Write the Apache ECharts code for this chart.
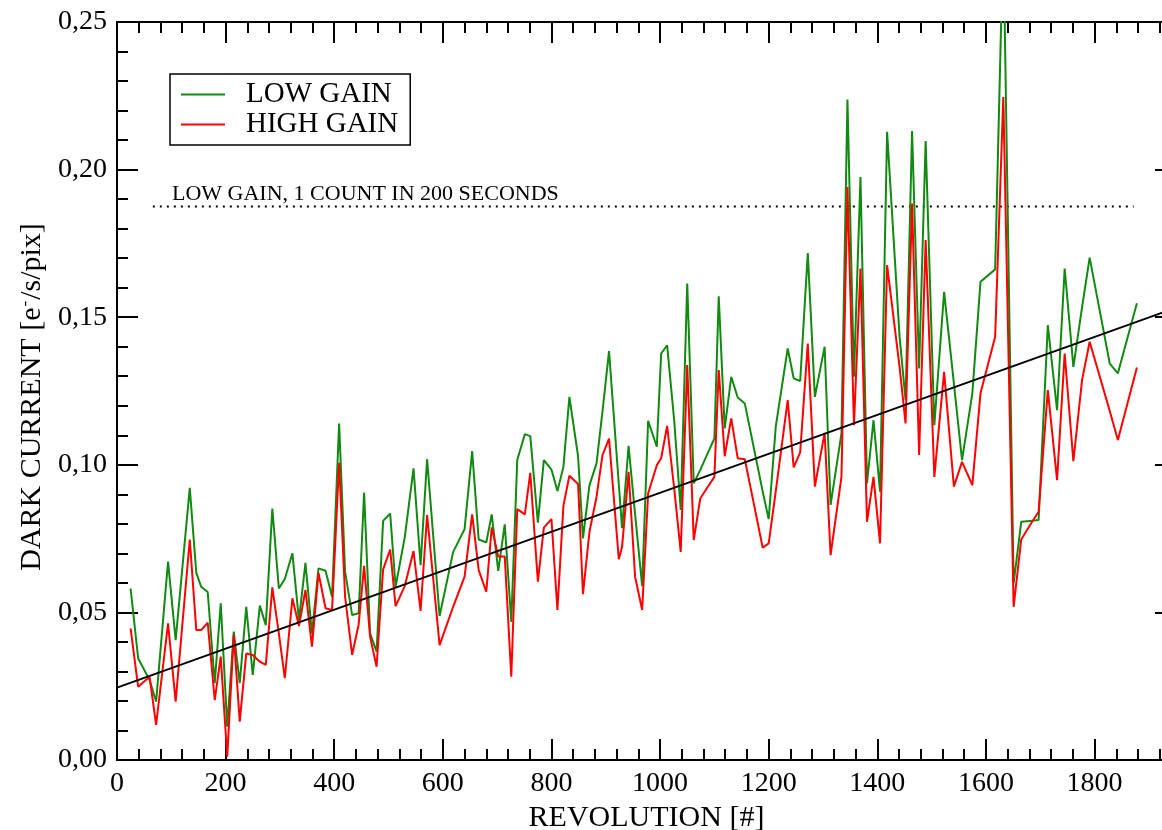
<!DOCTYPE html>
<html><head><meta charset="utf-8">
<script src="https://cdn.jsdelivr.net/npm/echarts@6/dist/echarts.min.js"></script>
<style>html,body{margin:0;padding:0;background:#fff}#c{width:1162px;height:830px}</style>
</head><body><div id="c"></div>
<script>
// ---------- data ----------
const revolutions = [25,39,60,72,94,108,134,146,155,167,180,191,203,215,226,238,250,263,274,286,298,309,323,335,347,359,371,384,396,409,420,433,445,455,466,478,490,503,513,530,546,559,571,594,619,640,654,666,680,690,702,714,726,737,751,761,775,786,800,811,822,833,849,858,870,883,894,906,924,930,942,954,967,978,994,1002,1013,1026,1038,1050,1062,1074,1087,1100,1108,1119,1131,1143,1156,1171,1189,1200,1213,1235,1246,1258,1272,1285,1303,1314,1334,1345,1357,1369,1381,1393,1405,1418,1441,1452,1464,1477,1489,1505,1523,1541,1556,1575,1590,1617,1632,1651,1665,1681,1697,1714,1731,1745,1761,1777,1791,1828,1843,1878];
const lowGain = [0.0581,0.0344,0.0271,0.0198,0.0672,0.0406,0.0922,0.0634,0.0587,0.0569,0.0260,0.0531,0.0113,0.0435,0.0260,0.0519,0.0288,0.0523,0.0457,0.0852,0.0581,0.0613,0.0700,0.0474,0.0668,0.0429,0.0649,0.0641,0.0553,0.1140,0.0638,0.0491,0.0497,0.0906,0.0429,0.0367,0.0810,0.0835,0.0587,0.0756,0.0988,0.0660,0.1019,0.0488,0.0705,0.0782,0.1046,0.0747,0.0737,0.0832,0.0641,0.0798,0.0468,0.1016,0.1104,0.1097,0.0804,0.1016,0.0984,0.0911,0.0993,0.1230,0.1029,0.0751,0.0931,0.1005,0.1182,0.1385,0.0935,0.0785,0.1064,0.0832,0.0589,0.1149,0.1061,0.1377,0.1405,0.1150,0.0847,0.1614,0.0937,0.0983,0.1036,0.1089,0.1571,0.1123,0.1298,0.1228,0.1208,0.1072,0.0909,0.0816,0.1129,0.1394,0.1293,0.1284,0.1717,0.1230,0.1400,0.0864,0.1106,0.2237,0.1298,0.1975,0.0937,0.1151,0.0909,0.2128,0.1434,0.1219,0.2131,0.1326,0.2097,0.1134,0.1586,0.1276,0.1016,0.1242,0.1620,0.1662,0.2800,0.0598,0.0807,0.0810,0.0813,0.1473,0.1185,0.1665,0.1332,0.1533,0.1702,0.1343,0.1310,0.1547];
const highGain = [0.0446,0.0248,0.0282,0.0119,0.0463,0.0198,0.0747,0.0440,0.0440,0.0465,0.0203,0.0350,0.0011,0.0423,0.0130,0.0361,0.0356,0.0333,0.0322,0.0585,0.0429,0.0277,0.0548,0.0454,0.0576,0.0384,0.0634,0.0514,0.0508,0.1007,0.0553,0.0356,0.0460,0.0658,0.0418,0.0316,0.0646,0.0713,0.0521,0.0590,0.0708,0.0505,0.0830,0.0389,0.0519,0.0621,0.0832,0.0643,0.0570,0.0788,0.0689,0.0689,0.0282,0.0850,0.0832,0.0973,0.0604,0.0787,0.0816,0.0508,0.0861,0.0963,0.0935,0.0562,0.0773,0.0892,0.1033,0.1089,0.0680,0.0722,0.0976,0.0621,0.0508,0.0903,0.0999,0.1022,0.1132,0.0920,0.0705,0.1338,0.0745,0.0886,0.0923,0.0959,0.1321,0.1029,0.1157,0.1022,0.1019,0.0883,0.0719,0.0734,0.0910,0.1219,0.0991,0.1042,0.1411,0.0926,0.1108,0.0694,0.0959,0.1941,0.1134,0.1665,0.0807,0.0959,0.0734,0.1676,0.1332,0.1140,0.1885,0.1033,0.1761,0.0959,0.1315,0.0926,0.1010,0.0931,0.1242,0.1434,0.2246,0.0519,0.0747,0.0795,0.0841,0.1253,0.0948,0.1377,0.1012,0.1287,0.1417,0.1182,0.1084,0.1330];
const fitX = [0, 1950];
const fitY = [0.0245, 0.1532];
const thresholdX = [66, 1872];
const thresholdY = [0.1875, 0.1875];
const thresholdLabel = 'LOW GAIN, 1 COUNT IN 200 SECONDS';
const seriesNames = ['LOW GAIN', 'HIGH GAIN'];
const xTickValues = [0, 200, 400, 600, 800, 1000, 1200, 1400, 1600, 1800];
const yTickValues = [0, 0.05, 0.10, 0.15, 0.20, 0.25];
const xTitle = 'REVOLUTION [#]';
const yTitle = 'DARK CURRENT [e{sup|-}/s/pix]';

// ---------- chart ----------
const FONT = '"Liberation Serif", "Times New Roman", serif';
const X_MIN = 0, X_MAX = 1950, Y_MIN = 0, Y_MAX = 0.25;
const xMinor = []; for (let v = 0; v <= 1920; v += 40) xMinor.push(v);
const pairs = (xs, ys) => xs.map((x, i) => [x, ys[i]]);

const blackLine = { show: true, onZero: false, lineStyle: { color: '#000', width: 2 } };
const noLine = { show: false, onZero: false };
function xAx(position, values, len, labels, line) {
  return {
    type: 'value', min: X_MIN, max: X_MAX, position: position,
    axisLine: line ? blackLine : noLine,
    splitLine: { show: false },
    axisTick: { show: true, inside: true, length: len, customValues: values, lineStyle: { color: '#000', width: 2 } },
    axisLabel: labels ? { show: true, customValues: values, margin: 10, fontFamily: FONT, fontSize: 28, color: '#000',
      formatter: v => String(v) } : { show: false }
  };
}
function yAx(position, interval, len, labels, line) {
  return {
    type: 'value', min: Y_MIN, max: Y_MAX, interval: interval, position: position,
    axisLine: line ? blackLine : noLine,
    splitLine: { show: false },
    axisTick: { show: true, inside: true, length: len, lineStyle: { color: '#000', width: 2 } },
    axisLabel: labels ? { show: true, margin: 10, fontFamily: FONT, fontSize: 28, color: '#000',
      formatter: v => v.toFixed(2).replace('.', ',') } : { show: false }
  };
}

const xAxes = [
  xAx('bottom', xTickValues, 21, true, true),
  xAx('bottom', xMinor, 11, false, false),
  xAx('top', xTickValues, 21, false, true),
  xAx('top', xMinor, 11, false, false)
];
Object.assign(xAxes[0], {
  name: xTitle, nameLocation: 'middle', nameGap: 38,
  nameTextStyle: { fontFamily: FONT, fontSize: 30, color: '#000' }
});
const yAxes = [
  yAx('left', 0.05, 21, true, true),
  yAx('left', 0.01, 11, false, false),
  yAx('right', 0.05, 21, false, true),
  yAx('right', 0.01, 11, false, false)
];
Object.assign(yAxes[0], {
  name: yTitle, nameLocation: 'middle', nameGap: 69, nameRotate: 90,
  nameTextStyle: { fontFamily: FONT, fontSize: 30, color: '#000', padding: [0, 12, 0, 0],
    rich: { sup: { fontFamily: FONT, fontSize: 17, color: '#000', verticalAlign: 'top', padding: [0, 1, 10, 1] } } }
});

const chart = echarts.init(document.getElementById('c'), null, { renderer: 'canvas' });
chart.setOption({
  animation: false,
  backgroundColor: '#fff',
  grid: { left: 117, top: 22, width: 1059, height: 738, containLabel: false, outerBoundsMode: 'none' },
  xAxis: xAxes,
  yAxis: yAxes,
  legend: {
    left: 170, top: 74, orient: 'vertical',
    borderColor: '#000', borderWidth: 1.5, borderRadius: 0,
    padding: [6, 12, 6, 11], itemWidth: 44, itemHeight: 2, itemGap: 1,
    icon: 'rect',
    textStyle: { fontFamily: FONT, fontSize: 29, color: '#000', padding: [0, 0, 0, 16] },
    data: seriesNames
  },
  graphic: [{
    type: 'text', left: 172, top: 183, silent: true,
    style: { text: thresholdLabel, font: '22px ' + FONT, fill: '#000' }
  }],
  series: [
    { name: seriesNames[0], type: 'line', data: pairs(revolutions, lowGain), symbol: 'none',
      lineStyle: { color: '#118a11', width: 2 }, itemStyle: { color: '#118a11' }, clip: true, z: 3 },
    { name: seriesNames[1], type: 'line', data: pairs(revolutions, highGain), symbol: 'none',
      lineStyle: { color: '#ff0000', width: 2 }, itemStyle: { color: '#ff0000' }, clip: true, z: 4 },
    { name: 'fit', type: 'line', data: pairs(fitX, fitY), symbol: 'none',
      lineStyle: { color: '#000', width: 2 }, clip: true, z: 5 },
    { name: 'threshold', type: 'line', data: pairs(thresholdX, thresholdY), symbol: 'none',
      lineStyle: { color: '#000', width: 2, type: [2, 5] }, clip: true, z: 2 }
  ]
});
</script></body></html>
